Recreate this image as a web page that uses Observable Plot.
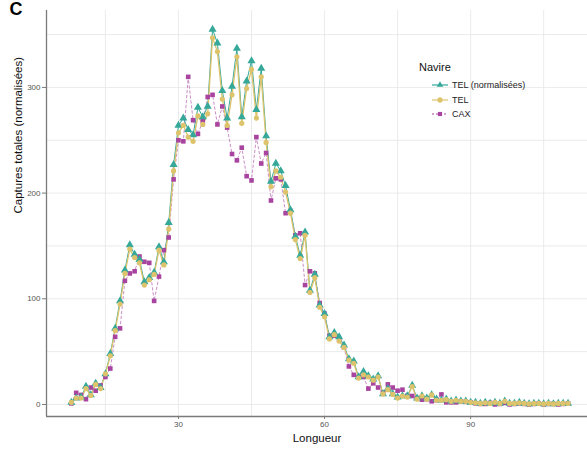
<!DOCTYPE html>
<html>
<head>
<meta charset="utf-8">
<script src="https://cdn.jsdelivr.net/npm/d3@7"></script>
<script src="https://cdn.jsdelivr.net/npm/@observablehq/plot@0.6"></script>
<style>
  html, body { margin: 0; padding: 0; background: #fff; }
  #wrap { position: relative; width: 587px; height: 450px; font-family: "Liberation Sans", Arial, sans-serif; }
  #legend { position: absolute; left: 419px; top: 61px; font-family: "Liberation Sans", Arial, sans-serif; }
  #legend .title { font-size: 11px; color: #111; margin-bottom: 5px; }
  #legend .item { display: flex; align-items: center; height: 14.5px; font-size: 9px; color: #222; margin-left: 12px; }
  #legend svg { margin-right: 3px; }
</style>
</head>
<body>
<div id="wrap"></div>
<script>
const lengths = [8,9,10,11,12,13,14,15,16,17,18,19,20,21,22,23,24,25,26,27,28,29,30,31,32,33,34,35,36,37,38,39,40,41,42,43,44,45,46,47,48,49,50,51,52,53,54,55,56,57,58,59,60,61,62,63,64,65,66,67,68,69,70,71,72,73,74,75,76,77,78,79,80,81,82,83,84,85,86,87,88,89,90,91,92,93,94,95,96,97,98,99,100,101,102,103,104,105,106,107,108,109,110];

const telNorm = [2,6,7,17,9,20,16,29,48,72,98,127,151,142,137,116,120,125,149,135,172,227,264,271,260,255,281,272,282,355,342,297,271,301,337,272,306,325,279,318,254,211,228,221,207,184,159,141,163,108,123,94,86,64,68,64,56,43,41,26,31,27,24,27,10,15,10,7,8,8,18,6,8,6,9,5,4,5,3,4,3,3,2,2,1,2,1,2,1,3,1,1,2,1,0.5,1,1,0.5,1,0.5,1,1,1];

const tel = [2,6,6,15,8.5,19,15,29,46,70,95,124,147,139,134,113,118,123,146,132,166,221,257,264,253,249,273,265,275,347,334,289,264,293,329,266,299,317,271,310,248,206,221,215,201,181,156,138,160,106,120,92,83,62,66,60,54,42,39,25,28,26,23,26,10,14,9.5,6,8,7,17,5,8,5,9,4,4,4.5,3,4,3,3,2,1.5,1,1.5,1,2,1,3,1,1,1.5,1,0.5,1,1,0.5,1,0.5,1,1,1];

const cax = [1,11,9,5,16,13,18,26,34,64,72,117,124,126,140,135,134,98,121,146,158,213,250,249,310,269,256,268,291,293,265,282,262,237,231,243,216,212,253,228,238,193,214,213,181,183,160,162,113,126,124,96,86,65,65,61,54,36,28,26,26,15,20,16,11,19,16,13,14,8,8,6,4.5,5,3,4,9.5,2,2,2,3,2.5,2,1,0.5,0.5,1.5,0,0.5,1.5,0,0.5,1,0.5,0,0.5,1,0,0.5,0.5,0,0.5,1];

const seriesNames = ["TEL (normalisées)", "TEL", "CAX"];
const seriesColors = ["#35a89a", "#dcc36c", "#a8449f"];

const xTicks = [30, 60, 90];
const xGrid = [15, 30, 45, 60, 75, 90, 105];
const yTicks = [0, 100, 200, 300];
const yGrid = [0, 50, 100, 150, 200, 250, 300, 350];

const rows = [];
[telNorm, tel, cax].forEach((vals, i) => {
  vals.forEach((v, j) => rows.push({L: lengths[j], v, s: seriesNames[i]}));
});
const of = name => rows.filter(d => d.s === name);

const xDomain = [2.9, 114];
const yDomain = [-11.4, 372.8];

const chart = Plot.plot({
  width: 587,
  height: 450,
  marginLeft: 46,
  marginRight: 0,
  marginTop: 10,
  marginBottom: 34,
  style: {fontFamily: "Liberation Sans, Arial, sans-serif", background: "#fff"},
  x: {domain: xDomain},
  y: {domain: yDomain},
  marks: [
    Plot.gridX(xGrid, {stroke: "#e6e6e6", strokeOpacity: 1, strokeWidth: 0.8}),
    Plot.gridY(yGrid, {stroke: "#e6e6e6", strokeOpacity: 1, strokeWidth: 0.8}),
    Plot.ruleX([xDomain[0]], {stroke: "#7a7a7a", strokeWidth: 1.3}),
    Plot.ruleY([yDomain[0]], {stroke: "#7a7a7a", strokeWidth: 1.3}),
    Plot.axisX(xTicks, {tickSize: 3, tickPadding: 1.5, fontSize: 8, color: "#555", label: null, stroke: "#7a7a7a"}),
    Plot.axisY(yTicks, {tickSize: 4, tickPadding: 2, fontSize: 8, color: "#555", label: null, stroke: "#7a7a7a"}),
    // lines
    Plot.line(of("CAX"), {x: "L", y: "v", stroke: seriesColors[2], strokeWidth: 0.8, strokeDasharray: "2.5,2.5", strokeOpacity: 0.75}),
    Plot.line(of("TEL (normalisées)"), {x: "L", y: "v", stroke: seriesColors[0], strokeWidth: 1}),
    Plot.line(of("TEL"), {x: "L", y: "v", stroke: seriesColors[1], strokeWidth: 1.3}),
    // points
    Plot.dot(of("CAX"), {x: "L", y: "v", fill: seriesColors[2], symbol: "square", r: 2.6}),
    Plot.dot(of("TEL (normalisées)"), {x: "L", y: "v", fill: seriesColors[0], symbol: "triangle", r: 3}),
    Plot.dot(of("TEL"), {x: "L", y: "v", fill: seriesColors[1], symbol: "circle", r: 2.6}),
    // titles
    Plot.text(["Captures totales (normalisées)"], {frameAnchor: "left", dx: -28, rotate: -90, fontSize: 11.5, fill: "#111"}),
    Plot.text(["Longueur"], {frameAnchor: "bottom", dy: 25, fontSize: 11.5, fill: "#111"}),
    Plot.text(["C"], {frameAnchor: "top-left", dx: -37, dy: -8, fontSize: 18, fontWeight: "bold", fill: "#000"})
  ]
});

const wrap = document.getElementById("wrap");
wrap.appendChild(chart);

// legend overlay
const legend = document.createElement("div");
legend.id = "legend";
const title = document.createElement("div");
title.className = "title";
title.textContent = "Navire";
legend.appendChild(title);
seriesNames.forEach((name, i) => {
  const item = document.createElement("div");
  item.className = "item";
  const svg = d3.create("svg").attr("width", 18).attr("height", 10);
  svg.append("line").attr("x1", 1).attr("x2", 17).attr("y1", 5).attr("y2", 5)
    .attr("stroke", seriesColors[i]).attr("stroke-width", 1.2)
    .attr("stroke-dasharray", i === 2 ? "2,2" : null);
  const sym = [d3.symbolTriangle2, d3.symbolCircle, d3.symbolSquare2][i];
  svg.append("path").attr("transform", "translate(9,5)")
    .attr("d", d3.symbol(sym, i === 0 ? 30 : 22)()).attr("fill", seriesColors[i]);
  item.appendChild(svg.node());
  const lab = document.createElement("span");
  lab.textContent = name;
  item.appendChild(lab);
  legend.appendChild(item);
});
wrap.appendChild(legend);
</script>
</body>
</html>
